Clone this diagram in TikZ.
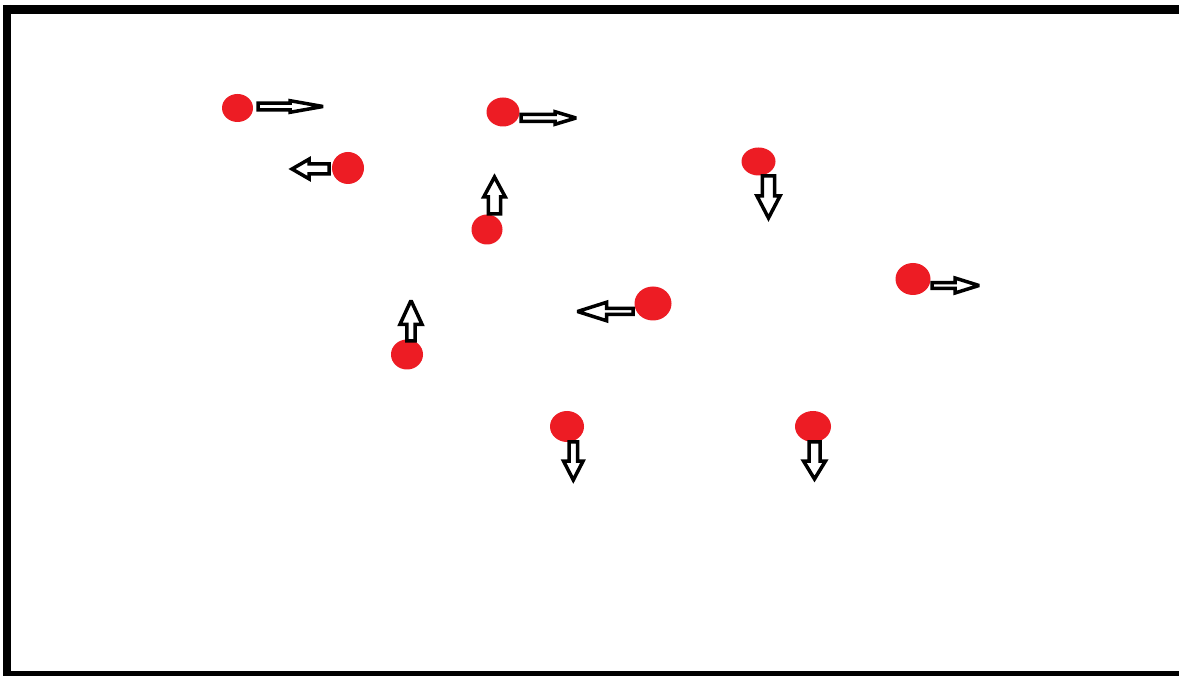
\documentclass[tikz,border=0pt]{standalone}
\usetikzlibrary{shapes.geometric}
\definecolor{paintred}{HTML}{ED1C24}
\tikzset{
  dot/.style={ellipse, fill=paintred, draw=none, inner sep=0pt},
  arrowline/.style={draw=black, fill=white, line width=3.5pt, line join=miter, miter limit=2.2},
  frameline/.style={draw=black, line cap=butt}
}
% tail x, tail y, angle, length, head length, shaft half-width, head half-width
\newcommand{\blockarr}[7]{%
  \begin{scope}[shift={(#1,#2)},rotate=#3]
    \draw[arrowline] (0,-#6) -- ({#4-#5},-#6) -- ({#4-#5},-#7) -- (#4,0)
      -- ({#4-#5},#7) -- ({#4-#5},#6) -- (0,#6) -- cycle;
  \end{scope}}
\begin{document}
\begin{tikzpicture}[x=1pt,y=-1pt]
\useasboundingbox (0,0) rectangle (1179,676);
\fill[white] (0,0) rectangle (1179,676);
% frame
\coordinate (tl) at (3.5,9.5);
\coordinate (tr) at (1185,9.5);
\coordinate (lt) at (7,5);
\coordinate (lb) at (7,680);
\coordinate (bl) at (3.5,675);
\coordinate (br) at (1185,675);
\draw[frameline, line width=9pt] (tl) -- (tr);
\draw[frameline, line width=7.5pt] (lt) -- (lb);
\draw[frameline, line width=9pt] (bl) -- (br);
% dots
\node[dot, minimum width=31pt, minimum height=28pt] (d1) at (237.5,108) {};
\node[dot, minimum width=32pt, minimum height=32pt] (d2) at (348,168) {};
\node[dot, minimum width=33pt, minimum height=29pt] (d3) at (503,112) {};
\node[dot, minimum width=31pt, minimum height=30pt] (d4) at (487,229.5) {};
\node[dot, minimum width=34pt, minimum height=28pt] (d5) at (758.5,161.5) {};
\node[dot, minimum width=35pt, minimum height=32pt] (d6) at (913,279) {};
\node[dot, minimum width=32pt, minimum height=30pt] (d7) at (407,354.5) {};
\node[dot, minimum width=37pt, minimum height=34pt] (d8) at (653,303.5) {};
\node[dot, minimum width=34pt, minimum height=31pt] (d9) at (567,426.5) {};
\node[dot, minimum width=36pt, minimum height=31pt] (d10) at (813,426.5) {};
% arrows
\blockarr{258}{106.5}{0}{65}{33}{3.3}{5.8}
\blockarr{329}{169}{180}{37}{17}{5}{9.8}
\blockarr{521}{118}{0}{55}{21}{3.5}{6.3}
\blockarr{494.5}{214}{90}{37}{20}{6.2}{10.8}
\blockarr{768.5}{176}{-90}{42}{22}{6.2}{11.5}
\blockarr{932}{285.5}{0}{47}{24}{2.8}{7.5}
\blockarr{411}{341}{90}{40.5}{24}{4.1}{11.1}
\blockarr{633}{311.5}{180}{55.5}{29}{3}{9.2}
\blockarr{573.3}{442}{-90}{38}{19}{4.3}{9.8}
\blockarr{814.5}{442}{-90}{37}{18}{5.5}{11}
\end{tikzpicture}
\end{document}
